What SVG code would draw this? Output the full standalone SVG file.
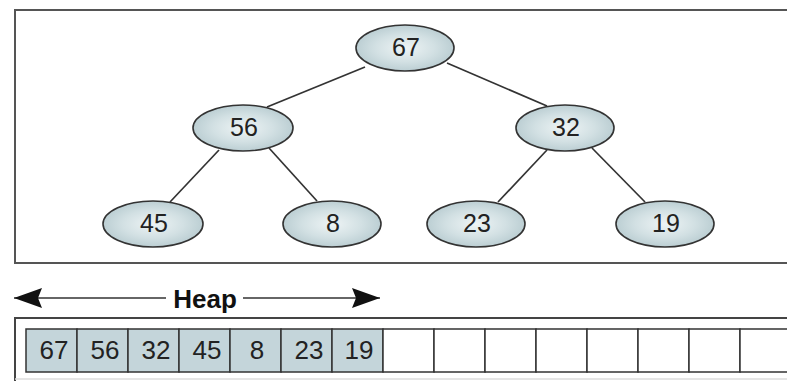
<svg xmlns="http://www.w3.org/2000/svg" width="787" height="381" viewBox="0 0 787 381">
<defs>
<radialGradient id="g" cx="50%" cy="50%" r="55%">
<stop offset="0" stop-color="#eef4f5"/>
<stop offset="0.55" stop-color="#d2e0e3"/>
<stop offset="1" stop-color="#b6cacf"/>
</radialGradient>
<marker id="ah" viewBox="0 0 28 20" refX="28" refY="10" markerWidth="28" markerHeight="20" markerUnits="userSpaceOnUse" orient="auto-start-reverse">
<path d="M0,0 L28,10 L0,20 L4,10 Z" fill="#111"/>
</marker>
</defs>
<style>
.n ellipse{fill:url(#g);stroke:#333;stroke-width:1.6}
.n text,.c text{font-family:"Liberation Sans",Arial,sans-serif;font-size:25px;fill:#222;text-anchor:middle}
.c text{font-size:26px}
.e line{stroke:#333;stroke-width:1.7}
.c rect{stroke:#333;stroke-width:1.5}
.f{fill:#c4d5da}
.w{fill:#fff}
</style>
<rect x="0" y="0" width="787" height="381" fill="#fff"/>
<path d="M800,10 H15 V263 H800" fill="none" stroke="#555" stroke-width="2"/>
<g id="edges" class="e">
<line x1="365" y1="67" x2="267" y2="107"/>
<line x1="447" y1="63" x2="547" y2="106"/>
<line x1="219" y1="150" x2="170" y2="202"/>
<line x1="269" y1="148" x2="317" y2="201"/>
<line x1="547" y1="150" x2="498" y2="202"/>
<line x1="592" y1="148" x2="645" y2="202"/>
</g>
<g id="n67" class="n"><ellipse cx="405" cy="48" rx="49" ry="23"/><text x="406" y="56">67</text></g>
<g id="n56" class="n"><ellipse cx="243" cy="128" rx="50" ry="23"/><text x="244" y="136">56</text></g>
<g id="n32" class="n"><ellipse cx="565" cy="128" rx="49" ry="23"/><text x="566" y="136">32</text></g>
<g id="n45" class="n"><ellipse cx="153" cy="224" rx="50" ry="23"/><text x="154" y="232">45</text></g>
<g id="n8" class="n"><ellipse cx="332" cy="224" rx="49" ry="23"/><text x="333" y="232">8</text></g>
<g id="n23" class="n"><ellipse cx="476" cy="224" rx="49" ry="23"/><text x="477" y="232">23</text></g>
<g id="n19" class="n"><ellipse cx="665" cy="224" rx="49" ry="23"/><text x="666" y="232">19</text></g>
<g id="heap-arrow">
<line x1="14" y1="298" x2="166" y2="298" stroke="#333" stroke-width="1.6" marker-start="url(#ah)"/>
<line x1="243" y1="298" x2="380" y2="298" stroke="#333" stroke-width="1.6" marker-end="url(#ah)"/>
<text x="205" y="308" font-family="Liberation Sans,Arial,sans-serif" font-weight="bold" font-size="26" fill="#111" text-anchor="middle">Heap</text>
</g>
<g id="array">
<path d="M800,318 H15 V381" fill="none" stroke="#444" stroke-width="2"/>
<line x1="15" y1="379" x2="787" y2="379" stroke="#ddd" stroke-width="1.5"/>
<g class="c">
<rect class="f" x="26" y="329" width="51" height="43"/><text x="54" y="359">67</text>
<rect class="f" x="77" y="329" width="51" height="43"/><text x="105" y="359">56</text>
<rect class="f" x="128" y="329" width="51" height="43"/><text x="156" y="359">32</text>
<rect class="f" x="179" y="329" width="51" height="43"/><text x="207" y="359">45</text>
<rect class="f" x="230" y="329" width="51" height="43"/><text x="257" y="359">8</text>
<rect class="f" x="281" y="329" width="51" height="43"/><text x="309" y="359">23</text>
<rect class="f" x="332" y="329" width="51" height="43"/><text x="359" y="359">19</text>
<rect class="w" x="383" y="329" width="51" height="43"/>
<rect class="w" x="434" y="329" width="51" height="43"/>
<rect class="w" x="485" y="329" width="51" height="43"/>
<rect class="w" x="536" y="329" width="51" height="43"/>
<rect class="w" x="587" y="329" width="51" height="43"/>
<rect class="w" x="638" y="329" width="51" height="43"/>
<rect class="w" x="689" y="329" width="51" height="43"/>
<rect class="w" x="740" y="329" width="51" height="43"/>
</g>
</g>
</svg>
